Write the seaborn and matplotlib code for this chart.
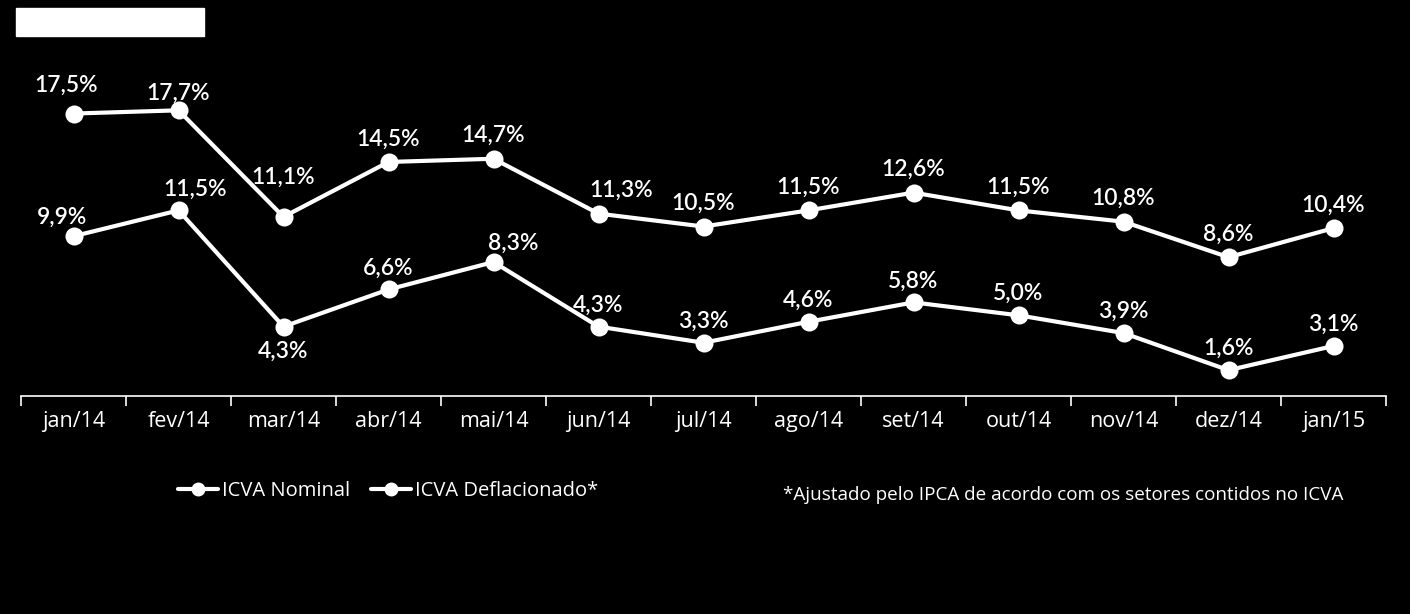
import numpy as np
import pandas as pd
import matplotlib
matplotlib.use("Agg")
import matplotlib.pyplot as plt
import seaborn as sns
from matplotlib.lines import Line2D
from matplotlib.patches import Rectangle

# data
months = ["jan/14", "fev/14", "mar/14", "abr/14", "mai/14", "jun/14", "jul/14",
          "ago/14", "set/14", "out/14", "nov/14", "dez/14", "jan/15"]
nominal = [17.5, 17.7, 11.1, 14.5, 14.7, 11.3, 10.5, 11.5, 12.6, 11.5, 10.8, 8.6, 10.4]
deflated = [9.9, 11.5, 4.3, 6.6, 8.3, 4.3, 3.3, 4.6, 5.8, 5.0, 3.9, 1.6, 3.1]
series_names = ["ICVA Nominal", "ICVA Deflacionado*"]
footnote = "*Ajustado pelo IPCA de acordo com os setores contidos no ICVA"

df = pd.DataFrame({
    "mes": months * 2,
    "pos": list(range(len(months))) * 2,
    "valor": nominal + deflated,
    "serie": [series_names[0]] * len(months) + [series_names[1]] * len(months),
})

sns.set_style("dark")
plt.rcParams["font.family"] = ["Lato", "DejaVu Sans"]

fig = plt.figure(figsize=(14.1, 6.14), dpi=100, facecolor="black")
ax = fig.add_axes([21 / 1410, 218 / 614, 1365 / 1410, 322.8 / 614])
ax.set_facecolor("black")

sns.lineplot(data=df, x="pos", y="valor", hue="serie", palette=["white", "white"],
             marker="o", markersize=13, markeredgewidth=0, linewidth=3,
             sort=False, legend=False, ax=ax)

ax.set_xlim(-0.5, len(months) - 0.5)
ax.set_ylim(0, 20)

# point labels
def fmt(v):
    return f"{v:.1f}".replace(".", ",") + "%"

# small nudges (in points) for labels that sit off-centre in the original
nudge_nom = {"jan/14": (-5, 4), "mar/14": (0, 12), "jun/14": (16, 0), "fev/14": (0, -4)}
nudge_def = {"jan/14": (-8, -2), "fev/14": (12, 0), "mai/14": (14, -2)}

for i, v in enumerate(nominal):
    dx, dy = nudge_nom.get(months[i], (0, 0))
    ax.annotate(fmt(v), (i, v), xytext=(dx, 9 + dy), textcoords="offset points",
                ha="center", va="bottom", color="white", fontsize=16.5, fontweight="semibold")
for i, v in enumerate(deflated):
    dx, dy = nudge_def.get(months[i], (0, 0))
    if months[i] == "mar/14":
        ax.annotate(fmt(v), (i, v), xytext=(0, -10), textcoords="offset points",
                    ha="center", va="top", color="white", fontsize=16.5, fontweight="semibold")
    else:
        ax.annotate(fmt(v), (i, v), xytext=(dx, 8 + dy), textcoords="offset points",
                    ha="center", va="bottom", color="white", fontsize=16.5, fontweight="semibold")

# axes styling
ax.grid(False)
for s in ["top", "left", "right"]:
    ax.spines[s].set_visible(False)
ax.spines["bottom"].set_color("white")
ax.spines["bottom"].set_linewidth(1.2)
ax.set_yticks([])
ax.set_xticks(range(len(months)))
ax.set_xticklabels(months, family=["Open Sans", "DejaVu Sans"])
ax.set_xticks(np.arange(-0.5, len(months), 1), minor=True)
ax.tick_params(axis="x", which="major", bottom=True, length=0, pad=11, labelsize=15.5,
               labelcolor="white")
ax.tick_params(axis="x", which="minor", bottom=True, length=7, width=1.2, color="white",
               direction="out")
ax.set_xlabel("")
ax.set_ylabel("")

# legend
handles = [Line2D([0], [0], color="white", lw=3, marker="o", markersize=9) for _ in series_names]
leg = fig.legend(handles, series_names, loc="center left", bbox_to_anchor=(160 / 1410, 1 - 491 / 614),
                 frameon=False, ncol=2, handlelength=2.0, handletextpad=0.2,
                 columnspacing=1.0, prop={"family": ["Open Sans", "DejaVu Sans"], "size": 14.5})
for t in leg.get_texts():
    t.set_color("white")

fig.text(783 / 1410, 1 - 495 / 614, footnote, color="white", fontsize=13.6,
         va="center", ha="left", family=["Open Sans", "DejaVu Sans"])

# white box in top-left corner
fig.patches.append(Rectangle((16 / 1410, 1 - 36 / 614), 188 / 1410, 28 / 614,
                             transform=fig.transFigure, color="white", zorder=0))

fig.savefig("out.png", dpi=100, facecolor="black")
